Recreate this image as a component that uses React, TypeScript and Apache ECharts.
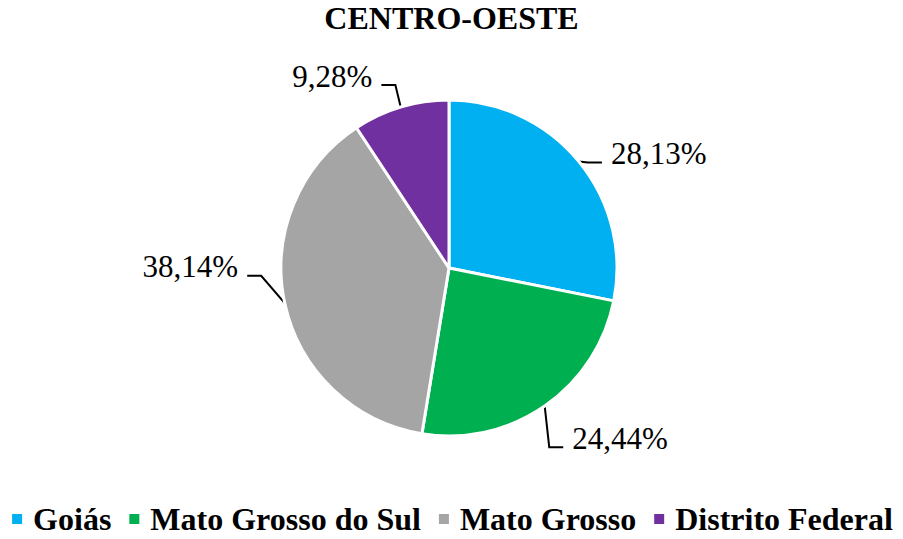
import React, { useEffect, useRef } from "react";
import * as echarts from "echarts";

const categories = ["Goiás", "Mato Grosso do Sul", "Mato Grosso", "Distrito Federal"];
const values = [28.13, 24.44, 38.14, 9.28];
const colors = ["#00B0F0", "#00B050", "#A5A5A5", "#7030A0"];
const titleText = "CENTRO-OESTE";

const FONT = "Liberation Serif";
// label nudges relative to ECharts' default outside-label placement
const labelShiftX = [0, 0, -10, -7];
const labelShiftY = [6, 14, -41, -10];

export default function App() {
  const ref = useRef<HTMLDivElement>(null);
  useEffect(() => {
    document.body.style.margin = "0";
    const chart = echarts.init(ref.current!, null, { renderer: "svg" });
    chart.setOption({
      animation: false,
      backgroundColor: "#ffffff",
      textStyle: { fontFamily: FONT },
      title: {
        text: titleText,
        left: "center",
        top: -3,
        textStyle: { fontFamily: FONT, fontSize: 32, fontWeight: "bold", color: "#000" },
      },
      legend: {
        top: 503,
        left: "center",
        padding: 0,
        icon: "rect",
        itemWidth: 12,
        itemHeight: 12,
        itemGap: 16,
        data: categories,
        textStyle: {
          fontFamily: FONT,
          fontSize: 32,
          lineHeight: 32,
          fontWeight: "bold",
          color: "#000",
          padding: [0, 0, 0, 5],
        },
      },
      series: [
        {
          type: "pie",
          center: [449, 268],
          radius: 168,
          startAngle: 90,
          clockwise: true,
          avoidLabelOverlap: false,
          itemStyle: { borderColor: "#ffffff", borderWidth: 3 },
          label: {
            show: true,
            position: "outside",
            fontFamily: FONT,
            fontSize: 31,
            color: "#000",
            formatter: (p: any) => p.value.toFixed(2).replace(".", ",") + "%",
          },
          labelLine: {
            show: true,
            length: 22,
            length2: 10,
            lineStyle: { color: "#000", width: 2 },
          },
          labelLayout: (p: any) => {
            const i = p.dataIndex;
            const dx = labelShiftX[i];
            const dy = labelShiftY[i];
            const pts = p.labelLinePoints;
            if (!pts || pts.length < 3) return { dx, dy };
            const p0 = pts[0];
            const p2 = pts[2];
            const dir = p2[0] >= p0[0] ? 1 : -1;
            const end = [p2[0] + dx - dir * 4, p2[1] + dy + 9];
            const mid = [end[0] - dir * 14, end[1]];
            return { dx, dy, labelLinePoints: [p0, mid, end] };
          },
          data: categories.map((c, i) => ({ name: c, value: values[i], itemStyle: { color: colors[i] } })),
        },
      ],
    });
    return () => chart.dispose();
  }, []);
  return <div ref={ref} style={{ width: 903, height: 539 }} />;
}
